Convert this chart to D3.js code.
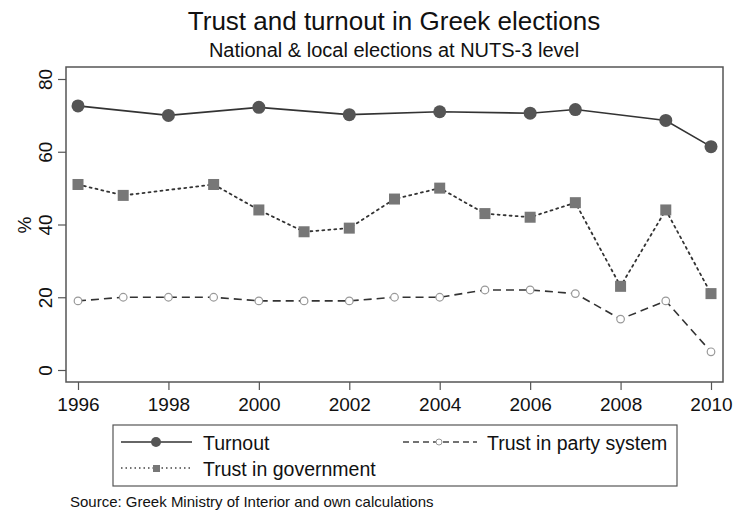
<!DOCTYPE html>
<html><head><meta charset="utf-8">
<script src="https://cdn.jsdelivr.net/npm/d3@7"></script>
<style>body{margin:0;background:#fff}svg{display:block;font-family:"Liberation Sans",Arial,sans-serif}</style>
</head><body><svg id="c" width="734" height="514"></svg>
<script>
const turnoutYears = [1996,1998,2000,2002,2004,2006,2007,2009,2010];
const turnoutVals  = [72.6,70.0,72.2,70.2,71.0,70.6,71.6,68.6,61.4];
const govYears = [1996,1997,1999,2000,2001,2002,2003,2004,2005,2006,2007,2008,2009,2010];
const govVals  = [51,48,51,44,38,39,47,50,43,42,46,23,44,21];
const partyYears = [1996,1997,1998,1999,2000,2001,2002,2003,2004,2005,2006,2007,2008,2009,2010];
const partyVals  = [19,20,20,20,19,19,19,20,20,22,22,21,14,19,5];
const xTicks = [1996,1998,2000,2002,2004,2006,2008,2010];
const yTicks = [0,20,40,60,80];

const svg = d3.select("#c");
const x = d3.scaleLinear().domain([1996,2010]).range([78,711]);
const y = d3.scaleLinear().domain([0,80]).range([370,79]);
const frame = {l:66,r:723,t:67,b:382};

svg.append("text").attr("x",394).attr("y",30).attr("text-anchor","middle")
  .attr("font-size",26).attr("fill","#111").text("Trust and turnout in Greek elections");
svg.append("text").attr("x",394).attr("y",57).attr("text-anchor","middle")
  .attr("font-size",20).attr("fill","#111").text("National & local elections at NUTS-3 level");

// frame
svg.append("rect").attr("x",frame.l).attr("y",frame.t).attr("width",frame.r-frame.l).attr("height",frame.b-frame.t)
  .attr("fill","none").attr("stroke","#555").attr("stroke-width",1.5);

// y axis
const yAxis = d3.axisLeft(y).tickValues(yTicks).tickSize(8).tickPadding(4);
const yg = svg.append("g").attr("transform",`translate(${frame.l},0)`).call(yAxis);
yg.select(".domain").remove();
yg.selectAll(".tick line").attr("stroke","#555").attr("stroke-width",1.2);
yg.selectAll(".tick text").attr("font-size",19).attr("fill","#111")
  .attr("x",null).attr("dy",null).attr("text-anchor","middle")
  .attr("transform","translate(-14,0) rotate(-90)");

// x axis
const xAxis = d3.axisBottom(x).tickValues(xTicks).tickFormat(d3.format("d")).tickSize(8).tickPadding(8);
const xg = svg.append("g").attr("transform",`translate(0,${frame.b})`).call(xAxis);
xg.select(".domain").remove();
xg.selectAll(".tick line").attr("stroke","#555").attr("stroke-width",1.2);
xg.selectAll(".tick text").attr("font-size",19).attr("fill","#111");

svg.append("text").attr("transform","translate(31,225) rotate(-90)").attr("text-anchor","middle")
  .attr("font-size",19).attr("fill","#111").text("%");

const line = d3.line().x(d=>x(d[0])).y(d=>y(d[1]));
const zip = (a,b)=>a.map((v,i)=>[v,b[i]]);
const partyD = zip(partyYears,partyVals), govD = zip(govYears,govVals), turnD = zip(turnoutYears,turnoutVals);

svg.append("path").datum(partyD).attr("d",line).attr("fill","none").attr("stroke","#333")
  .attr("stroke-width",1.6).attr("stroke-dasharray","8,5");
svg.selectAll(".pc").data(partyD).join("circle").attr("cx",d=>x(d[0])).attr("cy",d=>y(d[1])).attr("r",3.8)
  .attr("fill","#fff").attr("stroke","#999").attr("stroke-width",1.2);

svg.append("path").datum(govD).attr("d",line).attr("fill","none").attr("stroke","#333")
  .attr("stroke-width",1.8).attr("stroke-dasharray","2,4").attr("stroke-linecap","round");
svg.selectAll(".gs").data(govD).join("rect").attr("x",d=>x(d[0])-5.5).attr("y",d=>y(d[1])-5.5)
  .attr("width",11).attr("height",11).attr("fill","#777");

svg.append("path").datum(turnD).attr("d",line).attr("fill","none").attr("stroke","#333").attr("stroke-width",1.6);
svg.selectAll(".tc").data(turnD).join("circle").attr("cx",d=>x(d[0])).attr("cy",d=>y(d[1])).attr("r",6.5)
  .attr("fill","#555");

// legend
svg.append("rect").attr("x",113).attr("y",425).attr("width",564).attr("height",61)
  .attr("fill","#fff").attr("stroke","#555").attr("stroke-width",1.2);
const lg = svg.append("g");
// turnout
lg.append("line").attr("x1",121).attr("x2",192).attr("y1",442).attr("y2",442).attr("stroke","#333").attr("stroke-width",1.6);
lg.append("circle").attr("cx",156).attr("cy",442).attr("r",5).attr("fill","#555");
lg.append("text").attr("x",203).attr("y",450).attr("font-size",19.5).attr("fill","#111").text("Turnout");
// gov
lg.append("line").attr("x1",121).attr("x2",192).attr("y1",468).attr("y2",468).attr("stroke","#444").attr("stroke-width",1.5)
  .attr("stroke-dasharray","1.5,3");
lg.append("rect").attr("x",153).attr("y",465).attr("width",7).attr("height",7).attr("fill","#777");
lg.append("text").attr("x",203).attr("y",476).attr("font-size",19.5).attr("fill","#111").text("Trust in government");
// party
lg.append("line").attr("x1",403).attr("x2",477).attr("y1",442).attr("y2",442).attr("stroke","#444").attr("stroke-width",1.5)
  .attr("stroke-dasharray","6,4");
lg.append("circle").attr("cx",439).attr("cy",442).attr("r",3).attr("fill","#fff").attr("stroke","#999");
lg.append("text").attr("x",487).attr("y",450).attr("font-size",19.5).attr("fill","#111").text("Trust in party system");

svg.append("text").attr("x",70).attr("y",507).attr("font-size",15).attr("fill","#111")
  .text("Source: Greek Ministry of Interior and own calculations");
</script></body></html>
